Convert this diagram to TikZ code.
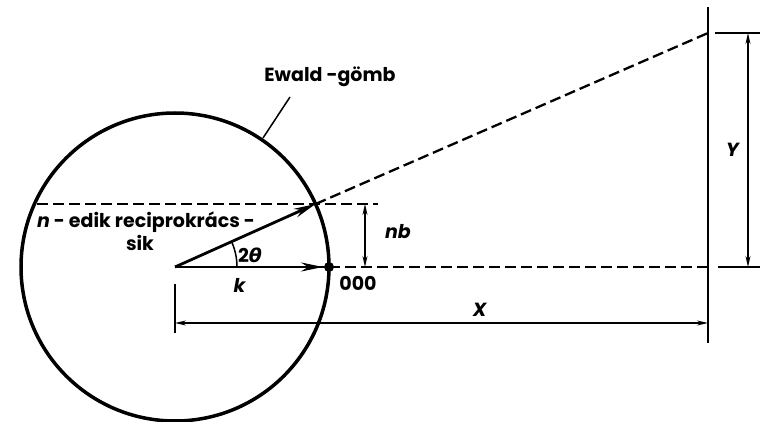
\documentclass[tikz,border=0pt]{standalone}
\usepackage{fontspec}
\setmainfont{Poppins}
\newfontfamily\grk{DejaVu Sans}
\usetikzlibrary{arrows.meta,calc}
\begin{document}
\begin{tikzpicture}[x=1pt,y=1pt,
  thick line/.style={line width=3.5pt},
  vec/.style={line width=2.8pt,-{Stealth[length=22pt,width=9pt]}},
  dim/.style={line width=1.5pt,{Stealth[length=11pt,width=5pt]}-{Stealth[length=11pt,width=5pt]}},
  dimline/.style={line width=1.5pt},
  dashline/.style={line width=2.3pt,dash pattern=on 11pt off 5pt},
  lbl/.style={font=\fontsize{19}{22}\selectfont\bfseries, inner sep=1pt}]
\useasboundingbox (0,0) rectangle (764,421);
\fill[white] (0,0) rectangle (764,421);
% geometry
\coordinate (O) at (175,154);
\coordinate (P) at (315.6,217);
\coordinate (Q) at (329,154);
\coordinate (T) at (708,388);
\coordinate (B) at (708,154);
\coordinate (St) at (708,414);
\coordinate (Sb) at (708,78);
% sphere
\draw[thick line] (O) circle[radius=154];
% dashed lines
\coordinate (U1) at (37,217);
\coordinate (U2) at (378,217);
\draw[dashline] (U1) -- (U2);
\draw[dashline] (P) -- (T);
\draw[dashline] (Q) -- (B);
% screen
\draw[dimline] (St) -- (Sb);
% vectors
\draw[vec] (O) -- (P);
\draw[line width=2.8pt] (O) -- (Q);
\draw[vec] (O) -- ($(Q)+(-6,0)$);
\fill (Q) circle[radius=5];
% angle arc
\draw[dimline] ($(O)+(62,0)$) arc[start angle=0,end angle=24,radius=62];
% nb
\coordinate (N1) at (365,217);
\coordinate (N2) at (365,154);
\draw[dim] (N1) -- (N2);
% Y
\coordinate (Yt1) at (715,388);
\coordinate (Yt2) at (760,388);
\coordinate (Yb1) at (718,154);
\coordinate (Yb2) at (760,154);
\draw[dimline] (Yt1) -- (Yt2);
\draw[dimline] (Yb1) -- (Yb2);
\coordinate (Ya) at (748,388);
\coordinate (Yb) at (748,154);
\draw[dim] (Ya) -- (Yb);
% X
\coordinate (Xt1) at (175,137);
\coordinate (Xt2) at (175,88);
\draw[dimline] (Xt1) -- (Xt2);
\coordinate (Xa) at (175,98);
\coordinate (Xb) at (708,98);
\draw[dim] (Xa) -- (Xb);
% labels
\node[lbl] (ewald) at (330,344) {Ewald -gömb};
\coordinate (L1) at (290,324);
\coordinate (L2) at (263,283);
\draw[dimline] (L1) -- (L2);
\node[lbl] (plane1) at (146,199) {\textit{n} - edik reciprokrács -};
\node[lbl] (plane2) at (140,178) {sik};
\node[lbl] (ang) at (250,166) {2\textit{\grk θ}};
\node[lbl] (k) at (240,136) {\textit{k}};
\node[lbl] (o) at (358,138) {000};
\node[lbl] (nb) at (398,189) {\textit{nb}};
\node[lbl] (Y) at (733,271) {\textit{Y}};
\node[lbl] (X) at (480,111) {\textit{X}};
\end{tikzpicture}
\end{document}
